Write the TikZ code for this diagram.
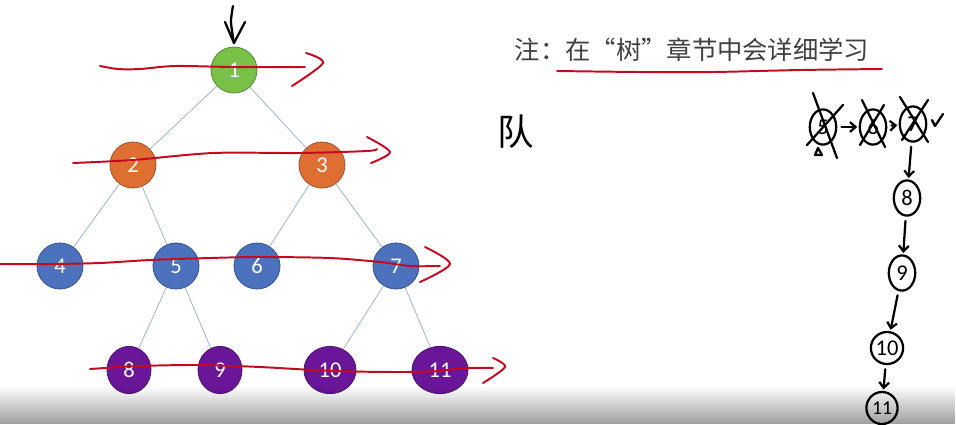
\documentclass[tikz,border=0pt]{standalone}
\usepackage{fontspec}
\setsansfont{Carlito}
\newfontfamily\cjkfont{Noto Sans CJK SC}
\usetikzlibrary{shapes.geometric,arrows.meta,fadings}

\definecolor{rootgreen}{RGB}{120,192,70}
\definecolor{rootgreenline}{RGB}{88,140,60}
\definecolor{levelorange}{RGB}{222,110,50}
\definecolor{levelorangeline}{RGB}{160,85,50}
\definecolor{levelblue}{RGB}{76,114,190}
\definecolor{levelblueline}{RGB}{55,85,145}
\definecolor{leafpurple}{RGB}{106,22,152}
\definecolor{leafpurpleline}{RGB}{80,20,110}
\definecolor{edgegray}{RGB}{150,172,190}
\definecolor{penred}{RGB}{196,10,30}

\begin{document}
\begin{tikzpicture}[x=0.025cm, y=-0.025cm,
		treenode/.style={
			circle, draw, line width=0.6pt, minimum size=1.15cm, inner sep=0pt,
			text=white, font=\sffamily\fontsize{16}{16}\selectfont
		},
		rootnode/.style={treenode, fill=rootgreen, draw=rootgreenline},
		orangenode/.style={treenode, fill=levelorange, draw=levelorangeline},
		bluenode/.style={treenode, fill=levelblue, draw=levelblueline},
		leafnode/.style={
			treenode, ellipse, fill=leafpurple, draw=leafpurpleline,
			minimum height=1.18cm, minimum width=1.1cm
		},
		treeedge/.style={draw=edgegray, line width=0.5pt},
		scanline/.style={draw=penred, line width=1.4pt, line cap=round, line join=round},
		pen/.style={draw=black, line width=1.6pt, line cap=round, line join=round},
		queuenode/.style={
			ellipse, pen, inner sep=0pt, minimum width=0.66cm, minimum height=0.88cm,
			font=\sffamily\fontsize{16}{16}\selectfont
		},
		queuearrow/.style={pen, -{Straight Barb[length=4pt,width=7pt]}, shorten <=3pt, shorten >=1pt}
		]
		\useasboundingbox (0,0) rectangle (956,424);
		
		% the tree
		\node[rootnode] (n1) at (234,70) {1};
		\node[orangenode] (n2) at (133,165) {2};
		\node[orangenode] (n3) at (322,165) {3};
		\node[bluenode] (n4) at (60,266) {4};
		\node[bluenode] (n5) at (176,266) {5};
		\node[bluenode] (n6) at (257,266) {6};
		\node[bluenode] (n7) at (396,266) {7};
		\node[leafnode] (n8) at (129,370) {8};
		\node[leafnode] (n9) at (220,370) {9};
		\node[leafnode, minimum width=1.3cm] (n10) at (330,370) {10};
		\node[leafnode, minimum width=1.4cm] (n11) at (440,370) {11};
		
		\foreach \a/\b in {n1/n2, n1/n3, n2/n4, n2/n5, n3/n6, n3/n7, n5/n8, n5/n9, n7/n10, n7/n11}
		\draw[treeedge] (\a) -- (\b);
		
		% red strokes, one per level
		\draw[scanline] plot[smooth] coordinates {(100,66) (118,69) (140,69) (175,66) (234,67) (305,67)};
		\draw[scanline] plot[smooth] coordinates {(306,53) (323,63) (292,86)};
		\draw[scanline] plot[smooth] coordinates {(73,163) (133,160) (213,153) (300,153) (367,151) (377,149)};
		\draw[scanline] plot[smooth] coordinates {(367,137) (390,152) (371,163)};
		\draw[scanline] plot[smooth] coordinates {(0,264) (50,264) (100,263) (150,260) (210,258) (260,257) (330,258) (380,262) (410,266) (440,266)};
		\draw[scanline] plot[smooth] coordinates {(425,247) (450,264) (420,282)};
		\draw[scanline] plot[smooth] coordinates {(90,369) (140,366) (200,365) (260,367) (333,371) (400,372) (440,371) (460,368) (493,368)};
		\draw[scanline] plot[smooth] coordinates {(493,358) (505,367) (483,383)};
		
		% black arrow into the root
		\draw[pen] plot[smooth] coordinates {(233,6) (231,22) (234,43)};
		\draw[pen] (225,22) -- (234,43) -- (245,22);
		
		% note
		\node[font=\cjkfont\fontsize{18}{18}\selectfont, text=black!75] (note) at (692,50) {注：在“树”章节中会详细学习};
		\draw[scanline] plot[smooth] coordinates {(557,71) (640,72) (713,72) (800,70) (882,69)};
		\node[font=\cjkfont\fontsize{26}{26}\selectfont] (dui) at (516,132) {队};
		
		% the queue on the right
		\node[queuenode] (q5) at (823,127) {5};
		\node[queuenode] (q6) at (873,127) {6};
		\node[queuenode] (q7) at (913,124) {7};
		\node[queuenode] (q8) at (907,198) {8};
		\node[queuenode] (q9) at (902,273) {9};
		\node[queuenode, minimum width=0.78cm, minimum height=0.8cm] (q10) at (887,348) {10};
		\node[queuenode, minimum width=0.78cm, minimum height=0.8cm, font=\sffamily\fontsize{14}{14}\selectfont] (q11) at (882,408) {11};
		
		\draw[queuearrow] (q5) -- (q6);
		\draw[queuearrow] (q6) -- (q7);
		\foreach \a/\b in {q7/q8, q8/q9, q9/q10, q10/q11}
		\draw[queuearrow] (\a) -- (\b);
		
		% crossed out
		\draw[pen] (813,93) -- (837,158);
		\draw[pen] (807,145) -- (843,105);
		\draw[pen] (815,155) -- (818,148) -- (822,155) -- cycle;
		\draw[pen] (862,100) -- (885,147);
		\draw[pen] (860,145) -- (884,105);
		\draw[pen] (900,97) -- (928,142);
		\draw[pen] (902,140) -- (928,100);
		\draw[pen] (932,120) -- (935,126) -- (943,114);
		
		% bottom shade
		\fill[black, opacity=0.38, path fading=north] (0,386) rectangle (956,424);
	\end{tikzpicture}
\end{document}
